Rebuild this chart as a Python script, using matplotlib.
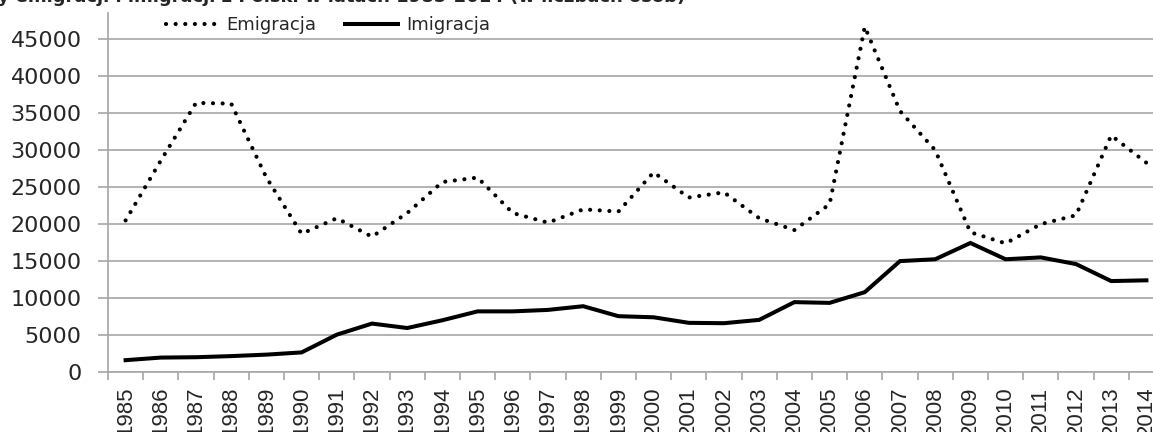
import matplotlib.pyplot as plt
import numpy as np

## Data
years = np.arange(1985, 2015)
emigracja = [20500, 28600, 36400, 36300, 26300, 18700, 20800, 18300, 21500, 25700,
             26300, 21500, 20200, 22000, 21700, 27000, 23600, 24300, 20800, 19200,
             22700, 46700, 35300, 30000, 18900, 17400, 20000, 21200, 32000, 28300]
imigracja = [1600, 1950, 2000, 2150, 2350, 2650, 5050, 6550, 5950, 7000,
             8200, 8200, 8400, 8900, 7550, 7400, 6650, 6600, 7050, 9450,
             9350, 10800, 15000, 15250, 17450, 15250, 15500, 14600, 12300, 12400]
yticks = np.arange(0, 50000, 5000)
title = 'Przepływy emigracji i imigracji z Polski w latach 1985-2014 (w liczbach osób)'

plt.rcParams['font.family'] = ['DejaVu Sans']
grid_col = '#a6a6a6'
text_col = '#262626'

fig = plt.figure(figsize=(11.53, 4.32), dpi=100)
# plot area runs a little past the right edge, like the cropped original
ax = fig.add_axes([108/1153, 60/432, 1056/1153, (372-12.7)/432])

x = np.arange(len(years))
ax.plot(x, emigracja, color='black', lw=3.0, linestyle=(0, (0.01, 2.3)),
        dash_capstyle='round', label='Emigracja')
ax.plot(x, imigracja, color='black', lw=2.9, solid_joinstyle='miter',
        label='Imigracja')

ax.set_xlim(-0.5, len(years) - 0.5)
ax.set_ylim(0, 48600)
ax.set_yticks(yticks)
ax.set_yticklabels([str(v) for v in yticks], fontsize=16, color=text_col)
ax.yaxis.grid(True, color=grid_col, lw=1.2)
ax.set_axisbelow(True)
ax.tick_params(axis='y', length=7, width=1.2, color=grid_col, pad=12)

# category labels in the middle, tick marks between categories
ax.set_xticks(x)
ax.set_xticklabels([str(y) for y in years], rotation=90, fontsize=16,
                   color=text_col, va='top', family=['Liberation Sans', 'DejaVu Sans'])
ax.set_xticks(np.arange(-0.5, len(years), 1), minor=True)
ax.tick_params(axis='x', which='major', length=0, pad=10.5)
ax.tick_params(axis='x', which='minor', length=5.5, width=1.2, color=grid_col)

for s in ['top', 'right']:
    ax.spines[s].set_visible(False)
ax.spines['left'].set_color(grid_col)
ax.spines['left'].set_linewidth(1.2)
ax.spines['bottom'].set_color(grid_col)
ax.spines['bottom'].set_linewidth(1.2)

leg = fig.legend(loc='center', bbox_to_anchor=(328/1153, 1 - 25/432), ncol=2,
                 frameon=False, handlelength=2.9,
                 handletextpad=0.45, columnspacing=1.6,
                 prop={'family': ['Liberation Sans Narrow', 'DejaVu Sans'], 'size': 13})
for t in leg.get_texts():
    t.set_color(text_col)

# title is cut off by the top edge in the original
fig.text(-95/1153, 1 - 2.5/432, title, fontsize=13, fontweight='bold',
         va='baseline', ha='left', color=text_col)

fig.savefig('out.png', dpi=100)
